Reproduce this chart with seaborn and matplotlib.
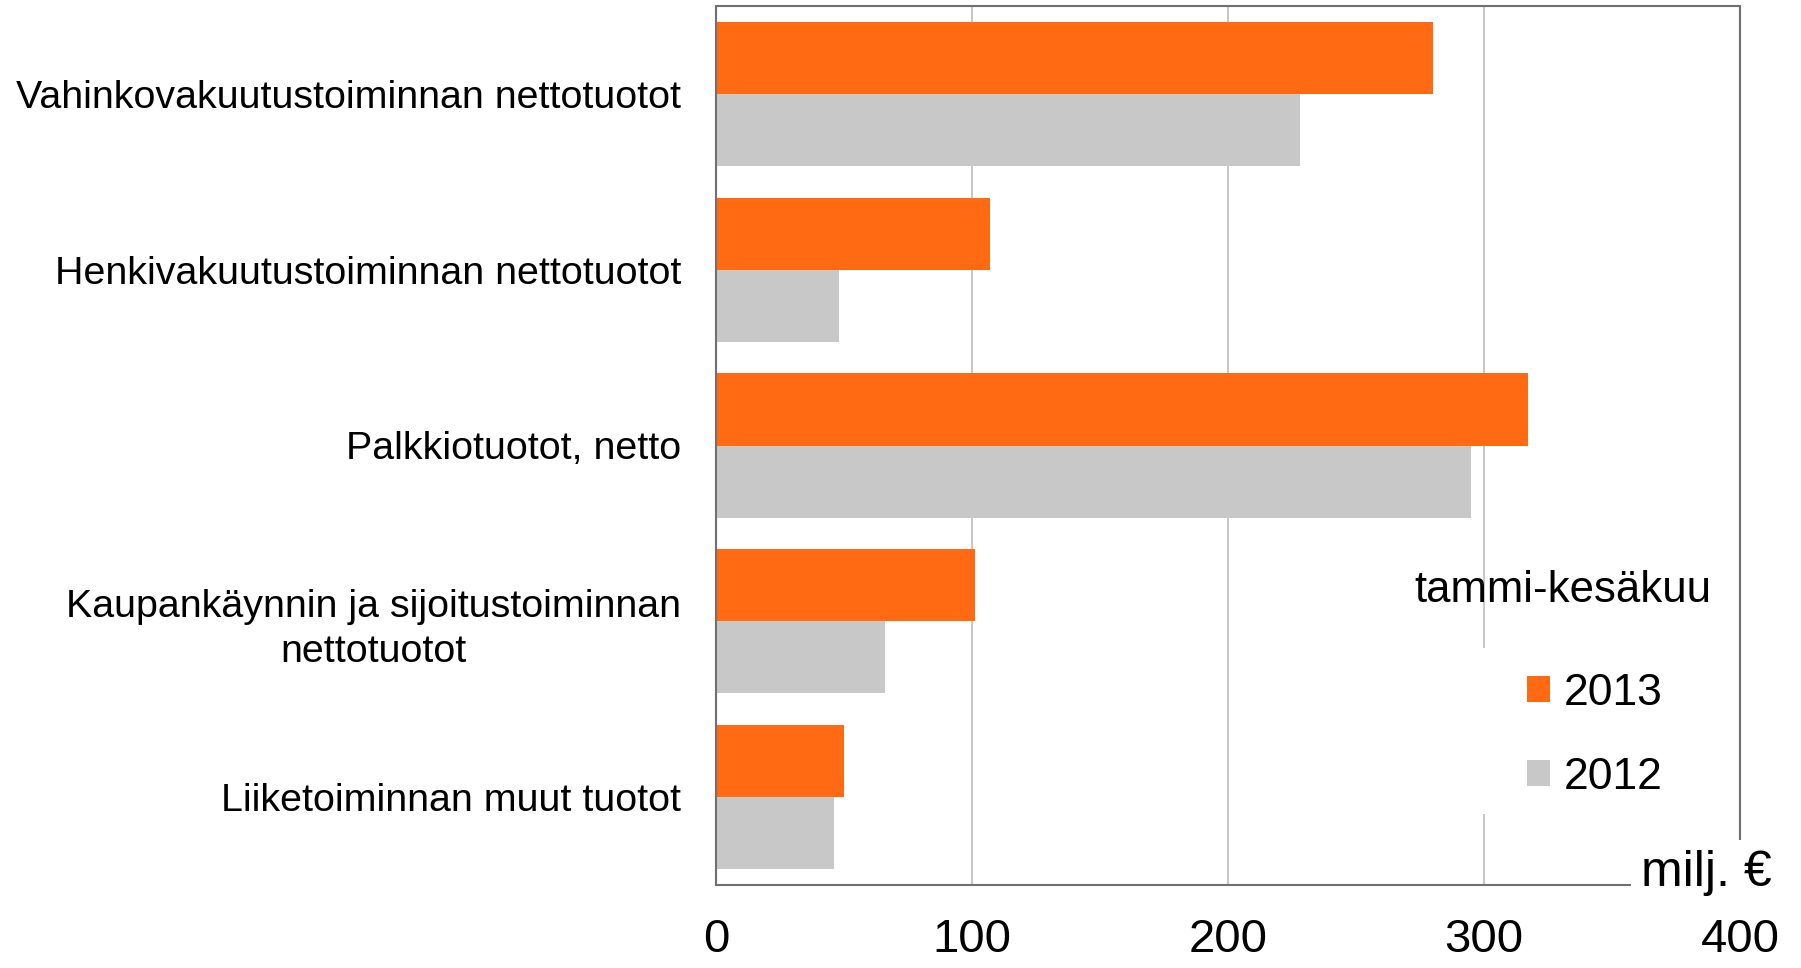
import matplotlib
matplotlib.use("Agg")
import matplotlib.pyplot as plt
import matplotlib.patches as mpatches
import seaborn as sns
import pandas as pd

categories = [
    "Vahinkovakuutustoiminnan nettotuotot",
    "Henkivakuutustoiminnan nettotuotot",
    "Palkkiotuotot, netto",
    "Kaupankäynnin ja sijoitustoiminnan\nnettotuotot",
    "Liiketoiminnan muut tuotot",
]
values_2013 = [280, 107, 317, 101, 50]
values_2012 = [228, 48, 295, 66, 46]
series = ["2013", "2012"]
x_ticks = [0, 100, 200, 300, 400]
legend_title = "tammi-kesäkuu"
unit_label = "milj. €"

df = pd.DataFrame({
    "kategoria": categories * 2,
    "arvo": values_2013 + values_2012,
    "vuosi": [series[0]] * len(categories) + [series[1]] * len(categories),
})

sns.set_theme(style="white")
plt.rcParams["font.family"] = ["Liberation Sans", "DejaVu Sans"]
plt.rcParams["text.color"] = "black"

colors = {"2013": "#FF6A13", "2012": "#C8C8C8"}

fig = plt.figure(figsize=(18.01, 9.68), dpi=100)
ax = fig.add_axes([716 / 1801, 1 - 885 / 968, (1740 - 716) / 1801, (885 - 6) / 968])

sns.barplot(data=df, y="kategoria", x="arvo", hue="vuosi", hue_order=series,
            palette=colors, orient="h", width=0.82, saturation=1,
            edgecolor="none", linewidth=0, ax=ax, legend=False)

ax.set_xlim(0, 400)
ax.set_ylim(4.5, -0.5)
ax.set_xticks(x_ticks)
ax.set_xticklabels([str(t) for t in x_ticks])
ax.set_xlabel("")
ax.set_ylabel("")
ax.set_axisbelow(True)
ax.xaxis.grid(True, color="#C8C8C8", linewidth=1.5)
ax.yaxis.grid(False)
for s in ax.spines.values():
    s.set_visible(True)
    s.set_color("#707070")
    s.set_linewidth(1.5)

ax.tick_params(axis="x", length=0, pad=24, labelsize=34, colors="black")
ax.tick_params(axis="y", length=0, pad=25, labelsize=28.4, colors="black")
for lbl in ax.get_yticklabels():
    lbl.set_multialignment("center")
    lbl.set_linespacing(1.3)

# legend backdrop (white box interrupting gridline)
ax.add_patch(mpatches.Rectangle((0.74, 0.081), 0.23, 0.189, transform=ax.transAxes,
                                facecolor="white", edgecolor="none", zorder=2.2))

handles = [mpatches.Patch(facecolor=colors[s], edgecolor="none", label=s) for s in series]
leg = ax.legend(handles=handles, loc="center left", bbox_to_anchor=(0.792, 0.170),
                frameon=False, fontsize=32, borderpad=0, borderaxespad=0,
                handlelength=0.52, handleheight=0.52, handletextpad=0.3,
                labelspacing=0.97, labelcolor="black")
leg.set_zorder(5)

ax.text(0.827, 0.322, legend_title, transform=ax.transAxes, ha="center",
        va="baseline", fontsize=31.5, color="black")

ax.text(0.903, -0.001, unit_label, transform=ax.transAxes, ha="left",
        va="baseline", fontsize=36, color="black", zorder=10, clip_on=False,
        bbox=dict(boxstyle="square,pad=0.2", facecolor="white", edgecolor="none"))

fig.savefig("out.png", dpi=100, facecolor="white")
